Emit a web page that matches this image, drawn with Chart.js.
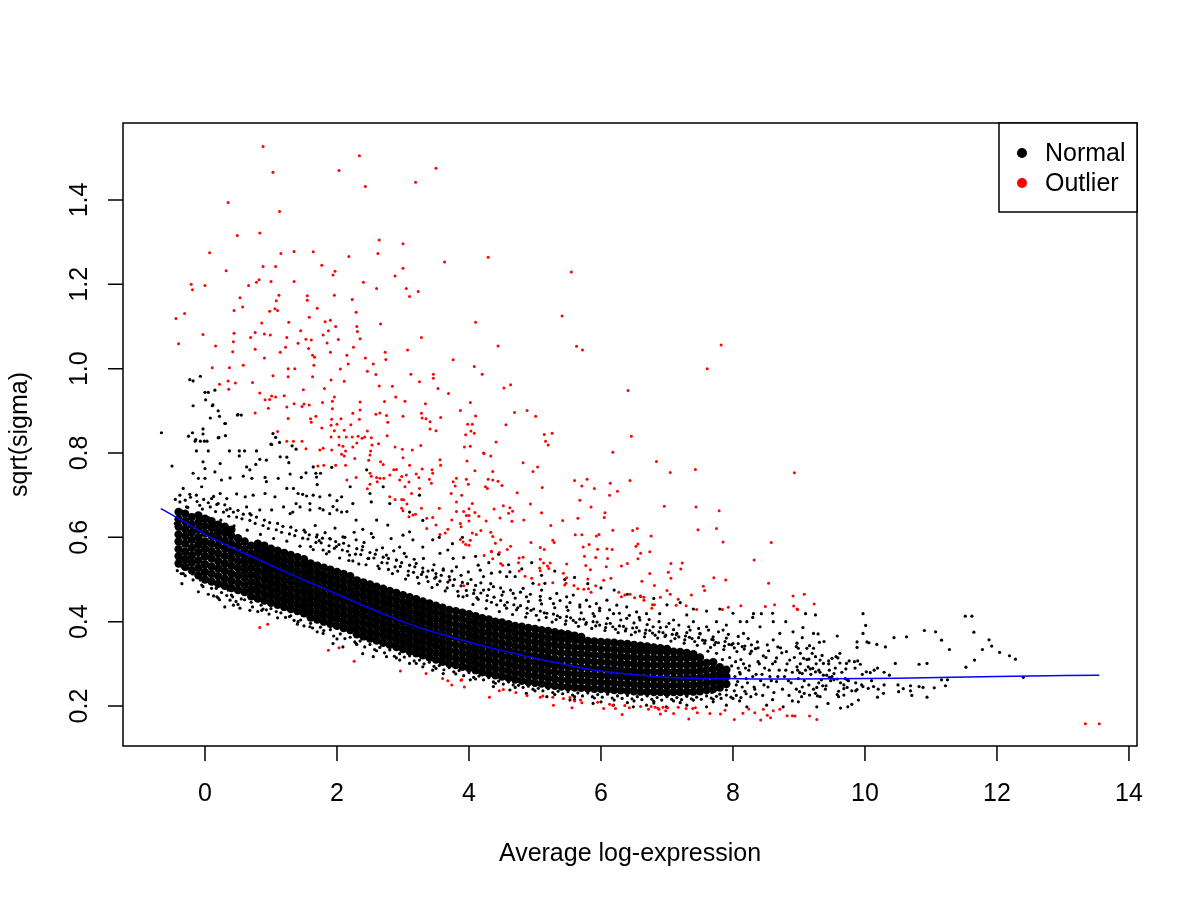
<!DOCTYPE html>
<html>
<head>
<meta charset="utf-8">
<script src="https://cdn.jsdelivr.net/npm/chart.js"></script>
<style>
  html, body { margin: 0; padding: 0; background: #fff; }
  canvas { display: block; }
</style>
</head>
<body>
<canvas id="myChart" width="1200" height="900"></canvas>
<script>
// axis ticks and titles
const xTicks = [0, 2, 4, 6, 8, 10, 12, 14];
const yTicks = [0.2, 0.4, 0.6, 0.8, 1.0, 1.2, 1.4];
const yTickLabels = ["0.2", "0.4", "0.6", "0.8", "1.0", "1.2", "1.4"];
const xTitle = "Average log-expression";
const yTitle = "sqrt(sigma)";
const legendLabels = ["Normal", "Outlier"];

// blue trend (lowess)
const trendX = [-0.67, -0.3, 0, 0.4, 0.8, 1.3, 1.8, 2.3, 2.8, 3.3, 3.9, 4.4, 4.9, 5.4, 5.9, 6.4, 6.9, 7.4, 7.9, 8.5, 9.0, 10.5, 12.0, 13.55];
const trendY = [0.668, 0.636, 0.607, 0.576, 0.548, 0.512, 0.479, 0.445, 0.412, 0.383, 0.356, 0.335, 0.317, 0.300, 0.285, 0.276, 0.269, 0.266, 0.265, 0.264, 0.264, 0.266, 0.270, 0.273];

// red points (outliers)
const outlierPts = [
  [0.88,1.527],[2.34,1.505],[2.03,1.47],[3.5,1.475],[1.03,1.466],[3.19,1.442],[2.43,1.432],[0.35,1.394],[1.13,1.373],[0.49,1.316],
  [0.83,1.322],[2.64,1.305],[3.0,1.296],[0.07,1.275],[1.15,1.273],[1.35,1.278],[1.64,1.277],[2.18,1.266],[2.62,1.273],[3.63,1.253],
  [0.32,1.232],[0.88,1.242],[1.07,1.242],[1.77,1.245],[1.97,1.231],[1.94,1.222],[3.0,1.238],[2.88,1.22],[-0.21,1.2],[-0.19,1.187],
  [0.0,1.197],[0.66,1.197],[0.78,1.205],[0.82,1.211],[1.0,1.207],[1.35,1.207],[2.4,1.205],[2.6,1.19],[3.05,1.19],[3.1,1.171],
  [3.23,1.183],[0.53,1.168],[0.57,1.146],[1.12,1.174],[1.08,1.161],[1.55,1.173],[1.55,1.162],[1.96,1.174],[2.23,1.164],[0.44,1.138],
  [0.98,1.136],[1.06,1.142],[1.1,1.138],[1.7,1.143],[2.29,1.134],[-0.44,1.119],[-0.31,1.131],[1.58,1.122],[0.86,1.108],[1.27,1.11],
  [1.82,1.111],[1.9,1.115],[1.98,1.1],[2.3,1.1],[2.66,1.106],[-0.03,1.081],[0.44,1.084],[0.76,1.086],[0.9,1.082],[0.99,1.08],
  [0.69,1.074],[1.45,1.09],[1.24,1.074],[1.53,1.07],[1.61,1.068],[1.41,1.06],[1.79,1.08],[1.87,1.09],[2.02,1.069],[1.85,1.061],
  [2.31,1.088],[2.35,1.071],[3.28,1.074],[-0.4,1.059],[0.16,1.054],[0.43,1.064],[0.42,1.04],[0.76,1.046],[1.22,1.051],[1.14,1.039],
  [1.57,1.048],[1.63,1.032],[1.66,1.027],[1.9,1.039],[2.15,1.032],[2.25,1.051],[2.43,1.025],[2.55,1.011],[2.73,1.039],[2.74,1.022],
  [3.07,1.044],[3.76,1.021],[0.9,1.025],[0.58,1.008],[0.11,1.002],[0.37,1.002],[1.26,1.0],[1.36,1.0],[1.65,1.008],[2.05,0.999],
  [2.17,1.011],[2.46,0.994],[2.59,0.986],[3.12,0.987],[3.46,0.987],[3.46,0.977],[3.25,0.969],[0.22,0.963],[0.35,0.971],[0.46,0.966],
  [0.36,0.951],[0.72,0.967],[1.03,0.983],[1.26,0.981],[1.63,0.981],[1.91,0.973],[2.11,0.97],[1.81,0.953],[1.49,0.95],[2.64,0.959],
  [2.84,0.958],[3.53,0.953],[3.69,0.941],[0.83,0.942],[0.91,0.926],[0.98,0.927],[1.01,0.935],[1.07,0.933],[1.2,0.936],[0.96,0.906],
  [1.24,0.909],[1.35,0.917],[1.47,0.91],[1.5,0.916],[1.58,0.914],[1.78,0.92],[1.93,0.923],[1.93,0.905],[1.96,0.933],[2.35,0.921],
  [2.35,0.902],[2.24,0.894],[2.72,0.922],[2.89,0.933],[3.03,0.923],[3.34,0.917],[0.76,0.895],[1.26,0.882],[1.6,0.881],[1.61,0.873],
  [1.68,0.887],[1.92,0.88],[2.06,0.881],[2.34,0.88],[2.59,0.892],[2.65,0.895],[2.75,0.889],[2.77,0.873],[3.0,0.887],[3.28,0.894],
  [3.29,0.883],[3.35,0.881],[3.41,0.874],[3.57,0.884],[3.87,0.901],[1.77,0.859],[1.91,0.866],[1.96,0.853],[2.0,0.868],[2.11,0.854],
  [2.21,0.867],[2.46,0.852],[2.76,0.841],[3.41,0.857],[3.5,0.853],[1.1,0.851],[1.91,0.838],[2.03,0.838],[2.14,0.838],[2.23,0.838],
  [2.32,0.84],[2.38,0.835],[2.42,0.838],[2.52,0.836],[1.24,0.828],[1.34,0.828],[1.47,0.828],[1.79,0.811],[1.92,0.807],[2.03,0.819],
  [2.09,0.816],[2.24,0.814],[2.3,0.824],[2.53,0.819],[2.63,0.822],[1.53,0.81],[1.74,0.807],[2.13,0.805],[2.51,0.805],[2.88,0.814],
  [2.99,0.809],[3.14,0.807],[3.27,0.818],
  [4.29,1.264],[5.55,1.229],[5.41,1.125],[4.1,1.11],[4.44,1.054],[5.63,1.053],[5.72,1.044],[7.82,1.056],[7.61,1.0],[4.08,1.005],
  [4.2,0.987],[4.53,0.954],[4.63,0.962],[6.41,0.948],[4.02,0.92],[4.1,0.888],[4.69,0.896],[4.88,0.901],[5.01,0.887],[3.98,0.868],
  [4.05,0.868],[4.56,0.867],[3.95,0.843],[4.03,0.852],[4.08,0.847],[5.14,0.844],[5.26,0.847],[5.16,0.828],[5.2,0.819],[6.46,0.84],
  [4.41,0.826],[3.93,0.814],[4.02,0.816],[6.18,0.802],[4.22,0.8],
  [4.23,0.799],[4.33,0.793],[3.97,0.781],[4.09,0.758],[4.36,0.756],[4.82,0.777],[5.04,0.767],[4.97,0.756],[6.84,0.78],[7.05,0.754],
  [7.43,0.761],[8.93,0.753],[3.96,0.738],[3.99,0.726],[4.29,0.738],[4.36,0.736],[4.44,0.733],[4.5,0.723],[4.25,0.72],[4.28,0.716],
  [4.73,0.706],[5.11,0.718],[5.6,0.735],[5.79,0.738],[5.71,0.722],[5.9,0.716],[6.14,0.728],[6.25,0.709],[6.13,0.7],[6.44,0.735],
  [5.68,0.688],[5.85,0.672],[6.96,0.674],[7.44,0.672],[7.79,0.663],[3.89,0.7],[4.05,0.68],[4.0,0.668],[4.09,0.659],[3.92,0.661],
  [4.52,0.675],[4.38,0.667],[4.62,0.67],[4.66,0.662],[4.6,0.657],[4.93,0.679],[5.1,0.658],[3.96,0.652],[4.0,0.652],[4.15,0.65],
  [4.26,0.639],[4.0,0.639],[4.47,0.646],[4.65,0.638],[4.83,0.641],[5.24,0.628],[5.42,0.64],[5.65,0.645],[6.05,0.647],[6.06,0.658],
  [6.18,0.617],[6.48,0.616],[6.55,0.621],[6.76,0.603],[7.47,0.618],[7.75,0.621],[7.85,0.589],[8.58,0.588],[8.32,0.546],[3.88,0.625],
  [4.05,0.61],[4.11,0.607],[4.18,0.616],[4.02,0.593],[3.91,0.589],[3.95,0.583],[4.0,0.581],[4.33,0.612],[4.36,0.602],[4.48,0.594],
  [4.4,0.586],[4.94,0.588],[5.27,0.593],[5.29,0.588],[4.63,0.579],[4.58,0.571],[4.34,0.567],[4.46,0.564],[5.08,0.576],[5.14,0.571],
  [5.61,0.606],[5.71,0.606],[5.93,0.603],[5.97,0.607],[5.82,0.583],[5.73,0.577],[6.09,0.573],[6.17,0.571],[5.95,0.572],[6.56,0.584],
  [6.53,0.579],[6.74,0.566],[6.6,0.562],[4.23,0.557],[4.36,0.549],[4.34,0.566],[4.48,0.538],[4.51,0.534],[4.76,0.551],[4.75,0.54],
  [4.82,0.553],[5.08,0.548],[5.13,0.539],[5.07,0.527],[5.19,0.532],[5.23,0.539],[5.48,0.537],[5.43,0.515],[5.75,0.555],[5.77,0.533],
  [5.84,0.523],[5.92,0.552],[6.1,0.55],[6.31,0.532],[6.4,0.538],[6.56,0.549],[7.06,0.538],[7.23,0.539],[7.21,0.525],[7.02,0.517],
  [7.06,0.503],[6.74,0.514],[6.62,0.496],[6.81,0.486],[4.76,0.52],[4.85,0.508],[4.95,0.503],[5.08,0.521],[5.21,0.526],[5.27,0.492],
  [5.45,0.487],[5.59,0.486],[5.8,0.501],[5.81,0.478],[5.85,0.47],[5.92,0.485],[6.04,0.498],[6.15,0.503],[6.27,0.47],[6.31,0.459],
  [6.36,0.463],[6.44,0.465],[6.51,0.457],[6.6,0.461],[6.65,0.458],[6.65,0.451],[6.9,0.458],[7.0,0.474],[7.05,0.465],[6.78,0.44],
  [6.81,0.44],[6.77,0.432],[7.17,0.453],[7.37,0.463],[7.55,0.484],[7.57,0.474],[7.71,0.504],[7.89,0.499],[8.54,0.491],[8.91,0.461],
  [8.92,0.437],[8.63,0.44],[8.49,0.436],[8.12,0.438],[7.93,0.434],[7.84,0.429],[7.45,0.429],[7.29,0.438],[7.14,0.439],[8.98,0.429],
  [6.08,0.53],[5.06,0.488],[3.92,0.485],[5.48,0.504],[5.47,0.491],[5.65,0.478],[5.74,0.477],
  [3.89,0.262],[3.93,0.245],[4.31,0.221],[4.46,0.236],[4.52,0.239],[4.71,0.232],[4.88,0.225],[5.08,0.221],[5.12,0.224],[5.28,0.202],
  [5.27,0.221],[5.43,0.218],[5.53,0.22],[5.56,0.196],[5.6,0.212],[5.71,0.208],[5.95,0.209],[6.04,0.194],[6.13,0.204],[6.18,0.202],
  [6.22,0.194],[6.32,0.18],[6.36,0.201],[6.43,0.196],[6.6,0.199],[6.72,0.192],[6.76,0.199],[6.82,0.197],[6.86,0.195],[6.88,0.192],
  [6.9,0.181],[6.94,0.197],[6.98,0.189],[7.01,0.196],[7.1,0.182],[7.17,0.197],[7.33,0.169],[7.29,0.194],[7.39,0.194],[7.43,0.196],
  [7.46,0.184],[7.65,0.182],[7.81,0.181],[7.88,0.19],[8.02,0.168],[8.15,0.183],[8.24,0.193],[8.33,0.184],[8.42,0.167],[8.46,0.192],
  [8.52,0.178],[8.57,0.172],[8.61,0.189],[8.71,0.192],[8.82,0.177],[8.9,0.177],[8.94,0.176],[5.69,0.214],
  [0.83,0.386],[0.95,0.394],[1.87,0.332],[2.03,0.338],[2.26,0.306],[2.96,0.283],[3.35,0.277],[3.6,0.265],[3.68,0.26],[3.74,0.25],
  [3.88,0.261],
  [2.07,0.797],[2.11,0.793],[1.98,0.771],[2.13,0.771],[1.8,0.771],[1.71,0.769],[2.27,0.787],[2.5,0.795],[2.48,0.783],[2.66,0.779],
  [3.0,0.789],[2.7,0.773],[3.1,0.771],[2.86,0.76],[2.9,0.761],[2.8,0.748],[2.98,0.744],[3.05,0.748],[3.2,0.75],[3.44,0.76],
  [3.45,0.752],[3.57,0.771],[3.29,0.762],[2.5,0.752],[2.52,0.745],[2.6,0.742],[2.65,0.74],[2.71,0.74],[2.61,0.732],[2.15,0.736],
  [2.29,0.742],[2.5,0.726],[2.46,0.715],[2.95,0.736],[3.09,0.731],[3.03,0.72],[3.13,0.704],[3.25,0.716],[3.24,0.742],[3.4,0.738],
  [3.43,0.728],[3.76,0.732],[3.81,0.74],[3.73,0.704],[3.79,0.722],[2.8,0.696],[2.88,0.69],[2.98,0.69],[3.01,0.689],[3.06,0.679],
  [2.98,0.669],[3.0,0.663],[3.09,0.649],[3.15,0.653],[3.19,0.655],[3.28,0.669],[3.36,0.645],[3.45,0.647],[3.55,0.669],[3.5,0.629],
  [3.81,0.661],[3.74,0.641],[3.68,0.619],[3.87,0.633],[3.56,0.784],[3.81,0.684],[3.64,0.61],[3.56,0.607],[3.36,0.621],[3.87,0.595],
  [9.08,0.465],[9.23,0.442],[8.97,0.43],[9.16,0.176],[9.27,0.168],[13.34,0.158],[13.55,0.158]
];

// black points in the scattered parts of the cloud
const normalPts = [
  [-0.23,0.974],[-0.18,0.971],[-0.07,0.982],[0,0.944],[0.05,0.944],[0.01,0.926],[0.15,0.949],[-0.18,0.912],[0.11,0.912],[0.2,0.9],
  [0.22,0.887],[0.08,0.883],[0.49,0.89],[0.55,0.89],[0.31,0.87],[-0.66,0.848],[-0.25,0.84],[-0.19,0.848],[-0.03,0.857],[-0.03,0.845],
  [-0.15,0.828],[-0.07,0.828],[-0.01,0.828],[0.03,0.828],[0.21,0.837],[0.31,0.841],[1.03,0.846],[1.07,0.837],[1.01,0.82],[1.13,0.825],
  [1.32,0.817],[1.38,0.809],[-0.13,0.805],[0.05,0.805],[0.37,0.805],[0.52,0.805],[0.6,0.805],[0.78,0.805],
  [0.12,0.914],[0.3,0.87],[0.5,0.891],[-0.14,0.832],[0.2,0.836],[0.83,0.785],[-0.5,0.769],[-0.03,0.779],[0,0.763],[0.15,0.755],
  [0.23,0.775],[0.52,0.793],[0.63,0.767],[0.68,0.76],[0.77,0.773],[0.93,0.783],[1.14,0.791],[1.24,0.79],[-0.18,0.752],[-0.1,0.74],
  [0,0.74],[0.25,0.736],[0.38,0.741],[0.58,0.745],[0.71,0.74],[0.91,0.742],[0.93,0.732],[1.11,0.74],[1.29,0.75],[1.46,0.742],
  [1.64,0.767],[1.69,0.743],[1.75,0.752],[1.92,0.766],[-0.33,0.716],[-0.23,0.702],[-0.13,0.7],[-0.05,0.72],[0.13,0.697],[0.23,0.704],
  [0.33,0.692],[0.48,0.703],[0.61,0.696],[0.73,0.7],[0.91,0.704],[1.06,0.696],[1.24,0.716],[1.34,0.716],[1.41,0.704],[1.54,0.698],
  [1.64,0.7],[1.74,0.696],[1.89,0.7],[2.0,0.687],[2.07,0.696],[-0.38,0.684],[-0.28,0.672],[-0.08,0.676],[0.05,0.682],[0.2,0.68],
  [0.33,0.665],[0.43,0.66],[0.63,0.672],[0.68,0.656],[0.83,0.665],[1.01,0.665],[1.19,0.672],[1.29,0.656],[1.44,0.672],[1.59,0.665],
  [1.74,0.669],[1.89,0.656],[2.0,0.665],[2.15,0.661],[-0.45,0.633],[-0.4,0.586],[-0.43,0.558],[-0.35,0.53],[-0.33,0.514],[-0.19,0.513],
  [-0.07,0.499],[-0.03,0.483],[0.18,0.459],[0.35,0.475],[0.38,0.451],[0.43,0.439],[0.53,0.432],[0.68,0.427],[0.86,0.427],
  [1.0,0.821],[1.27,0.777],[1.53,0.753],[1.68,0.752],[1.7,0.725],[1.48,0.702],[1.38,0.68],[1.59,0.68],[1.33,0.66],[1.79,0.665],
  [1.94,0.673],[2.07,0.66],[2.24,0.68],[2.29,0.641],[2.39,0.619],[2.52,0.609],[2.6,0.641],[2.77,0.629],[2.5,0.704],[2.52,0.684],
  [2.7,0.72],[2.82,0.597],[2.95,0.577],[3.0,0.605],[3.1,0.613],[3.15,0.594],[3.3,0.577],[3.45,0.594],[3.56,0.562],[3.68,0.57],
  [3.76,0.55],[3.81,0.53],[3.61,0.522],[3.45,0.522],[2.29,0.594],[2.09,0.601],[1.89,0.597],[1.69,0.601],[1.79,0.57],[1.99,0.578],
  [2.19,0.558],[2.39,0.578],[2.6,0.57],[2.75,0.558],[2.9,0.546],[3.05,0.554],[3.2,0.538],[3.3,0.518],[3.5,0.506],[3.71,0.499],
  [2.2,0.72],[2.45,0.76],[2.8,0.68],[3.1,0.66],[3.3,0.64],[3.55,0.6],[3.75,0.585],[3.9,0.6],[3.25,0.7],
  [3.92,0.552],[3.99,0.518],[4.14,0.534],[4.22,0.507],[4.34,0.515],[4.47,0.518],[4.57,0.507],[4.7,0.507],[4.82,0.479],[4.97,0.491],
  [5.15,0.491],[5.1,0.475],[5.33,0.467],[5.48,0.459],[5.58,0.463],[5.78,0.451],[5.93,0.443],[6.09,0.451],[6.24,0.439],[6.39,0.435],
  [6.54,0.423],[6.69,0.419],[6.89,0.419],[7.1,0.404],[7.3,0.416],[7.4,0.4],[7.6,0.388],[7.75,0.4],[7.9,0.392],[8.11,0.4],
  [8.21,0.4],[8.31,0.419],[8.43,0.419],[8.61,0.4],[8.71,0.372],[8.91,0.376],[8.96,0.341],[8.81,0.329],[8.61,0.357],[8.41,0.388],
  [8.16,0.372],[8.0,0.348],[7.85,0.38],[7.7,0.357],[7.5,0.372],[7.35,0.38],[7.15,0.372],[6.99,0.388],[6.79,0.388],[6.59,0.404],
  [6.39,0.408],[6.19,0.419],[5.98,0.426],[5.88,0.419],[5.68,0.435],[5.48,0.435],[5.28,0.443],[5.08,0.451],[4.87,0.459],[4.67,0.467],
  [4.52,0.471],[4.37,0.483],[4.22,0.475],[4.07,0.467],[3.91,0.459],[4.17,0.522],[4.62,0.518],
  [4.1,0.555],[4.3,0.54],[4.45,0.56],[4.6,0.535],[4.8,0.525],[4.95,0.54],[5.1,0.51],[5.3,0.52],[5.45,0.5],[5.6,0.505],
  [5.8,0.49],[6.0,0.48],[6.2,0.475],[6.4,0.465],[6.6,0.46],[6.8,0.455],[7.0,0.44],[7.2,0.445],[7.4,0.43],[7.6,0.425],
  [7.8,0.43],[8.0,0.42],[8.3,0.41],[8.6,0.42],[8.8,0.4],
  [-0.35,0.662],[-0.26,0.671],[-0.14,0.654],[-0.04,0.667],[0.06,0.646],[0.16,0.661],[0.24,0.641],[0.36,0.65],[0.44,0.627],[0.56,0.644],
  [0.64,0.617],[0.76,0.633],[0.84,0.607],[0.96,0.621],[1.04,0.597],[1.16,0.612],[1.24,0.591],[1.36,0.604],[1.44,0.579],[1.56,0.596],
  [1.64,0.571],[1.76,0.587],[1.84,0.561],[1.96,0.574],[2.04,0.551],[2.16,0.567],[2.24,0.544],[2.36,0.559],[2.44,0.535],[2.56,0.551],
  [2.64,0.526],[2.76,0.539],[2.84,0.514],[2.96,0.531],[3.04,0.501],[3.16,0.517],[3.24,0.491],[3.36,0.506],[3.44,0.481],[3.56,0.496],
  [3.64,0.473],[3.76,0.486],[3.84,0.461],[3.96,0.474],[4.06,0.441],[4.14,0.453],[4.26,0.431],[4.34,0.446],[4.46,0.424],[4.54,0.439],
  [4.66,0.417],[4.74,0.433],[4.86,0.411],[4.94,0.427],[5.06,0.404],[5.14,0.421],[5.26,0.399],[5.34,0.414],[5.46,0.394],[5.54,0.409],
  [5.66,0.389],[5.74,0.406],[5.86,0.384],[5.94,0.399],[6.06,0.379],[6.14,0.396],[6.26,0.374],[6.34,0.389],[6.46,0.369],[6.54,0.386],
  [6.66,0.364],[6.74,0.379],[6.86,0.361],[6.94,0.374],[7.06,0.354],[7.14,0.369],[7.26,0.349],[7.34,0.363],[7.46,0.344],[7.54,0.356],
  [7.66,0.339],[7.74,0.351],[7.86,0.334],[7.94,0.346],[8.06,0.329],[8.14,0.341],[8.26,0.324],[8.34,0.336],[8.46,0.319],[8.54,0.331],
  [8.66,0.314],[8.74,0.326],[8.86,0.309],
  [0.1,0.692],[0.3,0.677],[0.5,0.664],[0.7,0.653],[0.9,0.641],[1.1,0.633],[1.3,0.624],[1.5,0.617],[1.7,0.606],[1.9,0.596],
  [2.1,0.586],[2.3,0.573],[2.5,0.564],[2.7,0.553],[2.9,0.546],[3.1,0.534],[3.3,0.527],[3.5,0.514],[3.7,0.507],[3.9,0.493],
  [4.1,0.486],[4.3,0.476],[4.5,0.463],[4.7,0.456],[4.9,0.448],[5.1,0.442],[5.3,0.433],[5.5,0.427],[5.7,0.421],[5.9,0.413],
  [6.1,0.408],[6.3,0.404],[6.5,0.397],[6.7,0.393],[6.9,0.386],[7.1,0.381],[7.3,0.374],[7.5,0.371],[7.7,0.364],[7.9,0.361],
  [-0.45,0.69],[-0.38,0.7],[-0.3,0.688],[-0.22,0.695],[-0.12,0.685],[-0.02,0.69],[0.08,0.672],[0.18,0.678],[0.28,0.66],[0.38,0.668],
  [0.48,0.648],[0.58,0.655],[0.68,0.64],[0.78,0.648],[0.88,0.628],[0.98,0.635],[1.08,0.618],[1.18,0.626],[1.28,0.608],[1.38,0.616],
  [1.48,0.598],[1.58,0.606],[1.68,0.588],[1.78,0.598],[1.88,0.58],[1.98,0.59],[2.08,0.57],[2.18,0.58],[2.28,0.56],[2.38,0.57],
  [2.48,0.55],[2.58,0.56],[2.68,0.54],[2.78,0.55],[2.88,0.53],[2.98,0.54],[3.08,0.52],[3.18,0.53],[3.28,0.512],[3.38,0.52],
  [3.48,0.503],[3.58,0.51],[3.68,0.494],[3.78,0.5],[3.88,0.485],[3.98,0.49],[4.08,0.475],[4.18,0.468],[4.28,0.462],[4.38,0.458],
  [4.48,0.45],[4.58,0.446],[4.68,0.44],[4.78,0.438],[4.88,0.432],[4.98,0.43],[5.08,0.425],[5.18,0.42],[5.28,0.418],[5.38,0.41],
  [5.48,0.412],[5.58,0.403],[5.68,0.406],[5.78,0.398],[5.88,0.4],[5.98,0.392],[6.08,0.395],[6.18,0.388],[6.28,0.39],[6.38,0.383],
  [6.48,0.385],[6.58,0.378],[6.68,0.38],[6.78,0.373],[6.88,0.376],[6.98,0.368],[7.08,0.37],[7.18,0.364],[7.28,0.366],[7.38,0.36],
  [7.48,0.362],[7.58,0.355],[7.68,0.358],[7.78,0.35],[7.88,0.353],[7.98,0.345],[8.08,0.348],[8.18,0.342],[8.28,0.345],[8.38,0.338],
  [1.52,0.612],[1.6,0.578],[1.67,0.628],[1.73,0.592],[1.82,0.611],[1.88,0.566],[1.97,0.622],[2.03,0.583],[2.12,0.6],[2.18,0.545],
  [2.26,0.612],[2.33,0.537],[2.41,0.588],[2.47,0.55],[2.55,0.6],[2.62,0.532],[2.69,0.575],[2.78,0.524],[2.86,0.568],[2.92,0.52],
  [3.02,0.562],[3.08,0.51],[3.17,0.548],[3.22,0.505],[3.31,0.55],[3.38,0.495],[3.47,0.535],[3.52,0.488],[3.61,0.525],[3.67,0.48],
  [3.74,0.52],[3.83,0.472],[3.88,0.51],[3.97,0.462],[4.03,0.5],[4.12,0.457],[4.18,0.492],[4.27,0.45],[4.33,0.49],[4.42,0.44],
  [4.48,0.48],[4.57,0.432],[4.63,0.475],[4.72,0.428],[4.78,0.47],[4.88,0.42],[4.93,0.465],[5.02,0.415],[5.08,0.46],[5.17,0.41],
  [5.23,0.455],[5.32,0.405],[5.38,0.45],[5.47,0.402],[5.53,0.445],[5.62,0.398],[5.68,0.44],[5.77,0.394],[5.83,0.436],[5.92,0.39],
  [5.98,0.432],[6.07,0.386],[6.13,0.428],[6.22,0.382],[6.28,0.42],[6.37,0.378],[6.43,0.415],[6.52,0.375],[6.58,0.41],[6.67,0.372],
  [6.73,0.405],[6.82,0.368],[6.88,0.4],[6.97,0.365],[7.03,0.396],[7.12,0.36],[7.18,0.392],[7.27,0.357],[7.33,0.388],[7.42,0.353],
  [7.48,0.384],[7.57,0.349],[7.63,0.38],[7.72,0.345],[7.78,0.376],[7.87,0.342],[7.93,0.37],[8.02,0.338],[8.08,0.365],[8.17,0.335],
  [8.23,0.36],[8.37,0.352],[8.52,0.345],[8.68,0.34],
  [-0.42,0.521],[-0.3,0.509],[-0.18,0.499],[-0.05,0.487],[0.1,0.479],[0.25,0.469],[0.4,0.463],[0.55,0.454],[0.7,0.446],[0.85,0.439],
  [1.0,0.431],[1.15,0.421],[1.3,0.414],[1.45,0.404],[1.6,0.396],[1.75,0.387],[1.9,0.381],[2.05,0.371],[2.2,0.363],[2.35,0.354],
  [2.5,0.346],[2.65,0.339],[2.8,0.333],[2.95,0.324],[3.1,0.319],[3.25,0.309],[3.4,0.304],[3.55,0.296],[3.7,0.291],[3.85,0.284],
  [4.0,0.279],[4.15,0.271],[4.3,0.267],[4.45,0.259],[4.6,0.257],[4.75,0.249],[4.9,0.247],[5.05,0.242],[5.2,0.241],[5.35,0.235],
  [5.5,0.234],[5.65,0.231],[5.8,0.231],[5.95,0.227],[6.1,0.228],[6.25,0.224],[6.4,0.225],[6.55,0.222],[6.7,0.224],[6.85,0.22],
  [7.0,0.222],[7.15,0.22],[7.3,0.223],[7.45,0.221],[7.6,0.224],[7.75,0.223],[7.9,0.226],[8.05,0.225],[8.2,0.229],[8.35,0.228],
  [-0.35,0.49],[-0.1,0.471],[0.2,0.456],[0.5,0.441],[0.8,0.424],[1.1,0.409],[1.4,0.394],[1.7,0.376],[2.0,0.359],[2.3,0.346],
  [2.6,0.331],[2.9,0.314],[3.2,0.301],[3.5,0.289],[3.8,0.276],[4.1,0.264],[4.4,0.254],[4.7,0.244],[5.0,0.236],[5.3,0.227],
  [5.6,0.222],[5.9,0.219],[6.2,0.214],[6.5,0.212],[6.8,0.211],[7.1,0.212],[7.4,0.214],[7.7,0.216],[8.0,0.218],
  [0.05,0.465],[0.22,0.452],[0.33,0.462],[0.47,0.448],[0.6,0.452],[0.72,0.435],[0.88,0.43],[0.97,0.418],[1.08,0.424],[1.22,0.41],
  [1.35,0.403],[1.5,0.39],[1.63,0.385],[1.8,0.379],[1.95,0.366],[2.12,0.36],[2.27,0.352],[2.42,0.34],[2.57,0.334],[2.72,0.326],
  [2.87,0.318],[3.02,0.316],[3.17,0.307],[3.32,0.3],[3.47,0.294],[3.62,0.286],[3.77,0.281],[3.92,0.272],[4.07,0.268],[4.22,0.262],
  [4.37,0.257],[4.52,0.252],[4.67,0.25],[4.82,0.244],[4.97,0.24],[5.12,0.236],[5.27,0.232],[5.42,0.229],[5.57,0.226],[5.72,0.224],
  [5.87,0.222],[6.02,0.221],[6.17,0.219],[6.32,0.218],[6.47,0.217],[6.62,0.215],[6.77,0.216],[6.92,0.214],[7.07,0.216],[7.22,0.215],
  [7.37,0.217],[7.52,0.216],[7.67,0.219],[7.82,0.218],[7.97,0.221],[8.12,0.22],[8.27,0.222],
  [0.13,0.461],[0.3,0.435],[0.42,0.459],[0.67,0.475],[0.78,0.451],[0.93,0.428],[1.18,0.435],[1.28,0.412],[1.41,0.4],[1.59,0.388],
  [1.79,0.372],[1.94,0.348],[2.09,0.34],[2.29,0.348],[2.39,0.324],[2.55,0.317],[2.75,0.317],[2.95,0.309],[3.1,0.301],[3.3,0.293],
  [3.45,0.285],[3.61,0.277],[-0.41,0.558],[-0.36,0.514],[-0.18,0.514],[0.17,0.479],[0.27,0.483],
  [4.02,0.262],[4.37,0.246],[4.62,0.238],[4.87,0.23],[5.18,0.222],[5.53,0.214],[5.88,0.206],[6.19,0.202],[6.49,0.198],[6.69,0.202],
  [6.99,0.198],[7.3,0.202],[7.6,0.198],[7.9,0.202],[8.21,0.198],[8.51,0.202],[8.76,0.198],
  [5.6,0.215],[6.0,0.21],[6.4,0.208],[6.8,0.207],[7.2,0.208],[7.7,0.21],[8.1,0.212],[8.6,0.215],[8.9,0.212],
  [7.62,0.33],[7.68,0.232],[7.75,0.325],[7.8,0.228],[7.84,0.31],[7.9,0.238],[7.95,0.315],[7.98,0.295],[8.02,0.236],[8.04,0.305],
  [8.08,0.29],[8.14,0.245],[8.16,0.3],[8.22,0.255],[8.24,0.285],[8.3,0.27],[8.33,0.24],[8.4,0.3],[8.44,0.275],[8.47,0.25],
  [8.55,0.285],[8.58,0.26],[8.64,0.305],[8.68,0.27],[8.8,0.285],[8.84,0.26],[8.03,0.27],[8.07,0.258],[8.11,0.276],[8.19,0.29],
  [8.05,0.25],[8.1,0.28],[8.12,0.31],[8.18,0.235],[8.2,0.265],[8.25,0.295],[8.28,0.33],[8.32,0.245],[8.35,0.275],[8.38,0.305],
  [8.42,0.26],[8.45,0.225],[8.48,0.29],[8.5,0.315],[8.53,0.245],[8.56,0.27],[8.6,0.3],[8.62,0.232],[8.66,0.258],[8.7,0.285],
  [8.72,0.338],[8.75,0.24],[8.78,0.27],[8.82,0.3],[8.85,0.225],[8.88,0.255],[8.9,0.28],[8.93,0.315],[8.96,0.24],[8.99,0.265],
  [9.02,0.3],[9.05,0.245],[9.08,0.26],[9.12,0.31],[9.15,0.25],[9.18,0.275],[9.22,0.24],[9.26,0.3],[9.3,0.255],[9.35,0.32],
  [9.4,0.24],[9.45,0.3],[9.5,0.27],[9.55,0.29],[9.6,0.235],[9.65,0.28],[9.75,0.26],[9.85,0.29],[9.95,0.25],[10.1,0.26],[10.2,0.24],
  [9.1,0.419],[9.25,0.416],[9.97,0.419],[10.01,0.391],[9.97,0.372],[9.58,0.366],[9.22,0.372],[9.29,0.371],[9.06,0.386],[9.05,0.362],
  [9.31,0.351],[9.38,0.353],[9.16,0.343],[9.88,0.352],[10.06,0.35],[10.18,0.346],[10.31,0.34],[10.44,0.362],[10.63,0.364],[10.9,0.379],
  [11.07,0.376],[11.16,0.356],[11.28,0.334],[11.52,0.413],[11.62,0.413],[11.65,0.375],[11.88,0.357],[11.78,0.334],[11.92,0.342],[12.04,0.327],
  [12.19,0.319],[12.28,0.311],[11.66,0.309],[11.53,0.292],[10.94,0.301],[10.82,0.299],[10.46,0.301],[12.4,0.268],[11.16,0.262],[11.25,0.262],
  [11.22,0.248],[11.05,0.243],[10.94,0.221],[10.88,0.244],[10.82,0.246],[10.71,0.225],[10.69,0.236],[10.69,0.248],[10.58,0.241],[10.51,0.234],
  [10.5,0.25],[10.29,0.25],[10.28,0.23],[10.19,0.221],[10.13,0.246],[10.05,0.242],[9.97,0.246],[9.88,0.239],[9.86,0.255],[9.9,0.214],
  [9.8,0.204],[9.74,0.198],[9.63,0.195],[9.44,0.206],[9.27,0.198],[10.19,0.29],[10.14,0.285],[10.08,0.279],[10.02,0.281],[9.96,0.275],
  [10.29,0.28],[10.37,0.273],[9.89,0.307],[9.93,0.299],[9.84,0.305],[9.76,0.307],[9.72,0.301],[9.71,0.288],[9.62,0.302],[9.59,0.314],
  [9.62,0.325],[9.88,0.339],[10.03,0.352],[9.68,0.241],[9.73,0.244],[9.8,0.236],[9.86,0.236],[9.63,0.255],[9.68,0.25],[9.73,0.262],
  [9.7,0.265],[9.58,0.264],[9.53,0.262],[9.48,0.26],[9.34,0.262],[9.36,0.248],[9.41,0.248],[9.27,0.244],[9.25,0.23],[9.28,0.224],
  [9.32,0.222],[9.16,0.226],[9.08,0.23],[9.01,0.234],[8.99,0.21],[9.04,0.222],[9.6,0.222],[9.58,0.227],[9.68,0.226],[9.46,0.285],
  [9.53,0.277],[9.42,0.273],[9.46,0.268],[9.37,0.273],[9.32,0.28],[9.3,0.285],[9.25,0.281],[9.21,0.289],[9.17,0.288],[9.14,0.293],
  [9.1,0.285],[9.05,0.277],[9.01,0.279],[8.98,0.285],[8.97,0.293],[9.5,0.313],[9.56,0.317],[9.45,0.307],[9.37,0.301],[9.32,0.309],
  [9.25,0.317],[9.2,0.325],[9.15,0.311],[9.07,0.313],[9.02,0.325],[8.99,0.337],[9.12,0.337],[9.22,0.337],[8.97,0.349]
];

// solid part of the black cloud: one column per x with the y values it covers
const normalCore = [
  [-0.4,[0.538,0.555,0.572,0.59,0.607,0.625,0.643,0.66]],
  [-0.3,[0.53,0.548,0.566,0.585,0.603,0.62,0.638,0.656]],
  [-0.2,[0.522,0.54,0.557,0.575,0.594,0.612,0.63,0.648]],
  [-0.1,[0.51,0.528,0.546,0.565,0.583,0.6,0.618,0.635,0.652]],
  [0.0,[0.5,0.518,0.536,0.555,0.573,0.59,0.61,0.627,0.644]],
  [0.1,[0.495,0.513,0.531,0.55,0.567,0.585,0.603,0.622,0.638]],
  [0.2,[0.49,0.508,0.526,0.544,0.562,0.58,0.598,0.614,0.63]],
  [0.3,[0.485,0.502,0.52,0.538,0.556,0.574,0.592,0.61,0.625]],
  [0.4,[0.48,0.497,0.514,0.532,0.55,0.567,0.585,0.603,0.618]],
  [0.5,[0.475,0.492,0.51,0.527,0.544,0.562,0.58,0.598]],
  [0.6,[0.47,0.487,0.504,0.521,0.538,0.555,0.572,0.59]],
  [0.7,[0.46,0.477,0.494,0.511,0.528,0.545,0.562,0.58]],
  [0.8,[0.455,0.472,0.488,0.505,0.521,0.538,0.554,0.57,0.585]],
  [0.9,[0.45,0.466,0.483,0.5,0.516,0.532,0.548,0.564,0.58]],
  [1.0,[0.445,0.461,0.477,0.493,0.509,0.525,0.541,0.557,0.573]],
  [1.1,[0.44,0.456,0.472,0.488,0.504,0.52,0.536,0.552,0.568]],
  [1.2,[0.435,0.451,0.467,0.483,0.499,0.515,0.531,0.547,0.563]],
  [1.3,[0.43,0.446,0.462,0.478,0.494,0.51,0.526,0.542,0.558]],
  [1.4,[0.425,0.441,0.457,0.473,0.489,0.505,0.521,0.537,0.553]],
  [1.5,[0.42,0.436,0.452,0.468,0.484,0.5,0.516,0.532,0.548]],
  [1.6,[0.41,0.426,0.442,0.458,0.474,0.49,0.506,0.522,0.538]],
  [1.7,[0.405,0.421,0.437,0.453,0.469,0.485,0.501,0.517,0.533]],
  [1.8,[0.4,0.416,0.432,0.448,0.464,0.48,0.496,0.512,0.528]],
  [1.9,[0.395,0.411,0.427,0.443,0.459,0.475,0.491,0.507,0.523]],
  [2.0,[0.39,0.406,0.422,0.438,0.454,0.47,0.486,0.502,0.518]],
  [2.1,[0.385,0.401,0.417,0.433,0.449,0.465,0.481,0.497,0.513]],
  [2.2,[0.38,0.396,0.412,0.428,0.444,0.46,0.476,0.492,0.508]],
  [2.3,[0.37,0.386,0.402,0.418,0.434,0.45,0.466,0.482,0.498]],
  [2.4,[0.365,0.381,0.397,0.413,0.429,0.445,0.461,0.477,0.493]],
  [2.5,[0.36,0.376,0.392,0.408,0.424,0.44,0.456,0.472,0.488]],
  [2.6,[0.355,0.371,0.387,0.403,0.419,0.435,0.451,0.467,0.483]],
  [2.7,[0.35,0.366,0.382,0.398,0.414,0.43,0.446,0.462,0.478]],
  [2.8,[0.345,0.361,0.377,0.393,0.409,0.425,0.441,0.457,0.473]],
  [2.9,[0.34,0.356,0.372,0.388,0.404,0.42,0.436,0.452,0.468]],
  [3.0,[0.335,0.351,0.367,0.383,0.399,0.415,0.431,0.447,0.463]],
  [3.1,[0.33,0.346,0.362,0.378,0.394,0.41,0.426,0.442,0.458]],
  [3.2,[0.325,0.341,0.357,0.373,0.389,0.405,0.421,0.437,0.453]],
  [3.3,[0.32,0.336,0.352,0.368,0.384,0.4,0.416,0.432,0.448]],
  [3.4,[0.315,0.331,0.347,0.363,0.379,0.395,0.411,0.427,0.443]],
  [3.5,[0.31,0.326,0.342,0.358,0.374,0.39,0.406,0.422,0.438]],
  [3.6,[0.305,0.321,0.337,0.353,0.369,0.385,0.401,0.417,0.433]],
  [3.7,[0.3,0.316,0.332,0.348,0.364,0.38,0.396,0.412,0.428]],
  [3.8,[0.297,0.313,0.329,0.345,0.361,0.377,0.393,0.409,0.425]],
  [3.9,[0.293,0.309,0.325,0.341,0.357,0.373,0.389,0.405,0.421]],
  [4.0,[0.29,0.306,0.322,0.338,0.354,0.37,0.386,0.402,0.418]],
  [4.1,[0.285,0.301,0.317,0.333,0.349,0.365,0.381,0.397,0.413]],
  [4.2,[0.28,0.296,0.312,0.328,0.344,0.36,0.376,0.392,0.408]],
  [4.3,[0.277,0.293,0.309,0.325,0.341,0.357,0.373,0.389,0.405]],
  [4.4,[0.273,0.289,0.305,0.321,0.337,0.353,0.369,0.385,0.4]],
  [4.5,[0.27,0.286,0.302,0.318,0.334,0.35,0.366,0.382,0.398]],
  [4.6,[0.267,0.283,0.299,0.315,0.331,0.347,0.363,0.379,0.394]],
  [4.7,[0.263,0.279,0.295,0.311,0.327,0.343,0.359,0.375,0.39]],
  [4.8,[0.26,0.276,0.292,0.308,0.324,0.34,0.356,0.372,0.388]],
  [4.9,[0.257,0.273,0.289,0.305,0.321,0.337,0.353,0.369,0.385]],
  [5.0,[0.255,0.271,0.287,0.303,0.319,0.335,0.351,0.367,0.383]],
  [5.1,[0.253,0.269,0.285,0.301,0.317,0.333,0.349,0.365,0.38]],
  [5.2,[0.25,0.266,0.282,0.298,0.314,0.33,0.346,0.362,0.378]],
  [5.3,[0.248,0.264,0.28,0.296,0.312,0.328,0.344,0.36,0.375]],
  [5.4,[0.246,0.262,0.278,0.294,0.31,0.326,0.342,0.358,0.372]],
  [5.5,[0.245,0.261,0.277,0.293,0.309,0.325,0.341,0.357,0.37]],
  [5.6,[0.244,0.26,0.276,0.292,0.308,0.324,0.34,0.356,0.367]],
  [5.7,[0.243,0.259,0.275,0.291,0.307,0.323,0.339,0.355,0.364]],
  [5.8,[0.242,0.258,0.274,0.29,0.306,0.322,0.338,0.354]],
  [5.9,[0.241,0.257,0.273,0.289,0.305,0.321,0.337,0.353]],
  [6.0,[0.24,0.256,0.272,0.288,0.304,0.32,0.336,0.352]],
  [6.1,[0.239,0.255,0.271,0.287,0.303,0.319,0.335,0.351]],
  [6.2,[0.238,0.254,0.27,0.286,0.302,0.318,0.334,0.35]],
  [6.3,[0.237,0.253,0.269,0.285,0.301,0.317,0.333,0.348]],
  [6.4,[0.236,0.252,0.268,0.284,0.3,0.316,0.332,0.347]],
  [6.5,[0.235,0.251,0.267,0.283,0.299,0.315,0.331,0.345]],
  [6.6,[0.234,0.25,0.266,0.282,0.298,0.314,0.33,0.343]],
  [6.7,[0.234,0.25,0.266,0.282,0.298,0.314,0.33,0.341]],
  [6.8,[0.233,0.249,0.265,0.281,0.297,0.313,0.329,0.339]],
  [6.9,[0.233,0.249,0.265,0.281,0.297,0.313,0.329,0.337]],
  [7.0,[0.232,0.248,0.264,0.28,0.296,0.312,0.328,0.335]],
  [7.1,[0.233,0.249,0.265,0.281,0.297,0.313,0.329]],
  [7.2,[0.233,0.249,0.265,0.281,0.297,0.313,0.328]],
  [7.3,[0.234,0.25,0.266,0.282,0.298,0.314,0.326]],
  [7.4,[0.234,0.25,0.266,0.282,0.298,0.314,0.323]],
  [7.5,[0.235,0.251,0.267,0.283,0.299,0.315]],
  [7.6,[0.238,0.254,0.27,0.286,0.302]],
  [7.7,[0.24,0.256,0.272,0.288,0.304]],
  [7.8,[0.244,0.26,0.276,0.292]],
  [7.9,[0.252,0.27,0.286]]
];

const FONT = '25px "Liberation Sans", Arial, Helvetica, sans-serif';

// draws the R style box, ticks, labels and legend
const rFrame = {
  id: 'rFrame',
  afterDraw(chart) {
    const { ctx, chartArea: a, scales: { x, y } } = chart;
    ctx.save();
    ctx.strokeStyle = '#000';
    ctx.lineWidth = 1.5;
    ctx.strokeRect(a.left, a.top, a.right - a.left, a.bottom - a.top);

    ctx.beginPath();
    xTicks.forEach(v => {
      const px = x.getPixelForValue(v);
      ctx.moveTo(px, a.bottom);
      ctx.lineTo(px, a.bottom + 15);
    });
    yTicks.forEach(v => {
      const py = y.getPixelForValue(v);
      ctx.moveTo(a.left, py);
      ctx.lineTo(a.left - 15, py);
    });
    ctx.stroke();

    ctx.fillStyle = '#000';
    ctx.font = FONT;
    ctx.textAlign = 'center';
    ctx.textBaseline = 'alphabetic';
    xTicks.forEach(v => ctx.fillText(String(v), x.getPixelForValue(v), 801));
    ctx.fillText(xTitle, (a.left + a.right) / 2, 861);

    yTicks.forEach((v, i) => {
      ctx.save();
      ctx.translate(87, y.getPixelForValue(v));
      ctx.rotate(-Math.PI / 2);
      ctx.fillText(yTickLabels[i], 0, 0);
      ctx.restore();
    });
    ctx.save();
    ctx.translate(27, (a.top + a.bottom) / 2);
    ctx.rotate(-Math.PI / 2);
    ctx.fillText(yTitle, 0, 0);
    ctx.restore();

    // legend box top right
    ctx.fillStyle = '#fff';
    ctx.fillRect(999, a.top, a.right - 999, 89);
    ctx.strokeRect(999, a.top, a.right - 999, 89);
    const colors = ['#000000', '#ff0000'];
    legendLabels.forEach((lab, i) => {
      ctx.fillStyle = colors[i];
      ctx.beginPath();
      ctx.arc(1022, 153 + i * 30, 5, 0, Math.PI * 2);
      ctx.fill();
      ctx.fillStyle = '#000';
      ctx.textAlign = 'left';
      ctx.fillText(lab, 1045, 161 + i * 30);
    });
    ctx.restore();
  }
};

const toXY = p => ({ x: p[0], y: p[1] });

new Chart(document.getElementById('myChart'), {
  type: 'scatter',
  data: {
    datasets: [
      {
        label: 'trend',
        data: trendX.map((v, i) => ({ x: v, y: trendY[i] })),
        showLine: true,
        borderColor: '#0000ff',
        borderWidth: 1.5,
        pointRadius: 0,
        cubicInterpolationMode: 'monotone',
        order: 0
      },
      {
        label: 'Outlier',
        data: outlierPts.map(toXY),
        pointBackgroundColor: '#ff0000',
        pointBorderColor: '#ff0000',
        pointBorderWidth: 0,
        pointRadius: 1.5,
        order: 1
      },
      {
        label: 'Normal',
        data: normalPts.map(toXY),
        pointBackgroundColor: '#000',
        pointBorderColor: '#000',
        pointBorderWidth: 0,
        pointRadius: 1.6,
        order: 2
      },
      {
        label: 'Normal (dense)',
        data: normalCore.flatMap(([cx, ys]) => ys.map(cy => ({ x: cx, y: cy }))),
        pointBackgroundColor: '#000',
        pointBorderColor: '#000',
        pointBorderWidth: 0,
        pointStyle: 'circle',
        pointRadius: 4.2,
        order: 3
      }
    ]
  },
  options: {
    responsive: false,
    animation: false,
    events: [],
    layout: { padding: { left: 123, right: 63, top: 123, bottom: 154 } },
    scales: {
      x: { type: 'linear', min: -1.2424, max: 14.1218, display: false },
      y: { type: 'linear', min: 0.10514, max: 1.58259, display: false }
    },
    plugins: {
      legend: { display: false },
      tooltip: { enabled: false }
    }
  },
  plugins: [rFrame]
});
</script>
</body>
</html>
